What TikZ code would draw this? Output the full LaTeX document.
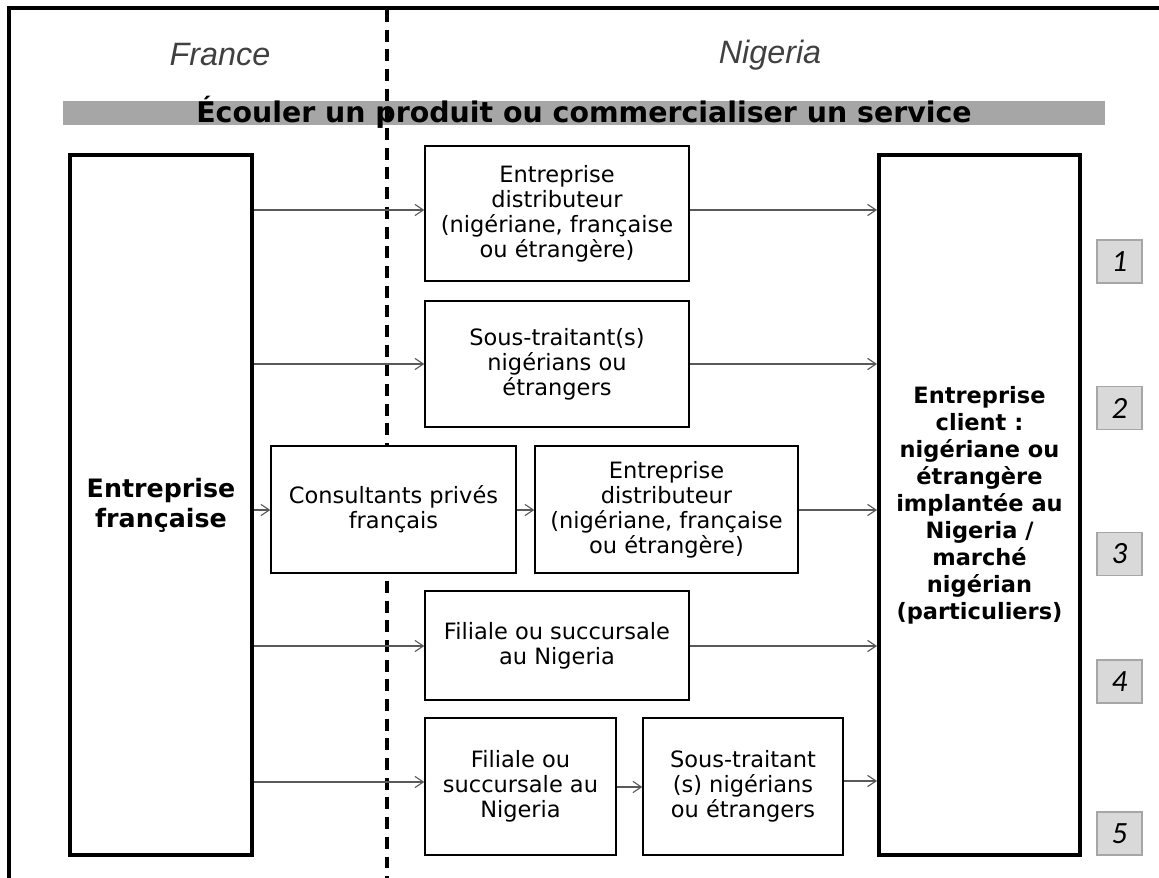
\documentclass[tikz,border=0pt]{standalone}
\usepackage{fontspec}
\setmainfont{DejaVu Sans}
\newfontfamily\handfont{Liberation Sans}
\newfontfamily\numfont{Carlito}
\usetikzlibrary{arrows.meta}
\tikzset{>={Straight Barb[length=6pt,width=8pt]}}
\definecolor{BarGray}{RGB}{166,166,166}
\definecolor{TagGray}{RGB}{217,217,217}
\definecolor{ArrowGray}{RGB}{89,89,89}
\tikzset{
  box/.style={draw=black,line width=0.9pt,fill=white,align=center,inner sep=0pt,font=\fontsize{16}{17.8}\selectfont},
  bigbox/.style={draw=black,line width=2.8pt,fill=white,align=center,inner sep=0pt,minimum height=17.5cm},
  tag/.style={draw=BarGray,fill=TagGray,line width=1.2pt,minimum width=1.125cm,minimum height=1.075cm,font=\numfont\itshape\fontsize{22}{22}\selectfont},
  flow/.style={->,draw=ArrowGray,line width=0.8pt},
  country/.style={text=black!75,font=\handfont\itshape\fontsize{23}{23}\selectfont},
}

\begin{document}
\begin{tikzpicture}[x=0.025cm,y=-0.025cm]
		\useasboundingbox (0,0) rectangle (1159,878);

		% frame
		\draw[line width=2.2pt] (9,878) -- (9,8) -- (1159,8);

		% title bar
		\fill[BarGray] (63,101) rectangle (1105,125);
		\node (title) at (584,112) {\bfseries\fontsize{20.2}{20.2}\selectfont Écouler un produit ou commercialiser un service};

		% border between the two countries
		\draw[line width=2.6pt,dash pattern=on 8.5pt off 5.5pt] (387,10) -- (387,878);
		\node[country] (fr) at (220,55) {France};
		\node[country] (ng) at (770,55) {Nigeria};

		% both ends
		\node[bigbox,minimum width=4.55cm,font=\bfseries\fontsize{18}{21.3}\selectfont] (ent) at (161,505) {Entreprise\\française};
		\node[bigbox,minimum width=5.025cm,font=\bfseries\fontsize{16}{19.2}\selectfont] (cli) at (979.5,505) {Entreprise\\client :\\nigériane ou\\étrangère\\implantée au\\Nigeria /\\marché\\nigérian\\(particuliers)};

		% intermediaries
		\node[box,minimum width=6.6cm,minimum height=3.375cm] (dist1) at (557,213.5) {Entreprise\\distributeur\\(nigériane, française\\ou étrangère)};
		\node[box,minimum width=6.6cm,minimum height=3.15cm] (sous1) at (557,364) {Sous-traitant(s)\\nigérians ou\\étrangers};
		\node[box,minimum width=6.125cm,minimum height=3.175cm] (cons) at (393.5,509.5) {Consultants privés\\français};
		\node[box,minimum width=6.575cm,minimum height=3.175cm] (dist2) at (666.5,509.5) {Entreprise\\distributeur\\(nigériane, française\\ou étrangère)};
		\node[box,minimum width=6.6cm,minimum height=2.725cm] (fil1) at (557,645.5) {Filiale ou succursale\\au Nigeria};
		\node[box,minimum width=4.775cm,minimum height=3.425cm] (fil2) at (520.5,786.5) {Filiale ou\\succursale au\\Nigeria};
		\node[box,minimum width=5cm,minimum height=3.425cm] (sous2) at (743,786.5) {Sous-traitant\\(s) nigérians\\ou étrangers};

		% routes
		\draw[flow] (ent.east |- 0,210) -- (dist1.west |- 0,210);
		\draw[flow] (dist1.east |- 0,210) -- (cli.west |- 0,210);
		\draw[flow] (ent.east |- 0,364) -- (sous1.west |- 0,364);
		\draw[flow] (sous1.east |- 0,364) -- (cli.west |- 0,364);
		\draw[flow] (ent.east |- 0,510) -- (cons.west |- 0,510);
		\draw[flow] (cons.east |- 0,510) -- (dist2.west |- 0,510);
		\draw[flow] (dist2.east |- 0,510) -- (cli.west |- 0,510);
		\draw[flow] (ent.east |- 0,646) -- (fil1.west |- 0,646);
		\draw[flow] (fil1.east |- 0,646) -- (cli.west |- 0,646);
		\draw[flow] (ent.east |- 0,782) -- (fil2.west |- 0,782);
		\draw[flow] (fil2.east |- 0,787) -- (sous2.west |- 0,787);
		\draw[flow] (sous2.east |- 0,781) -- (cli.west |- 0,781);

		% route numbers
		\node[tag] (n1) at (1119.5,261.5) {1};
		\node[tag] (n2) at (1119.5,408) {2};
		\node[tag] (n3) at (1119.5,554) {3};
		\node[tag] (n4) at (1119.5,681.5) {4};
		\node[tag] (n5) at (1119.5,833.5) {5};

	\end{tikzpicture}
\end{document}
